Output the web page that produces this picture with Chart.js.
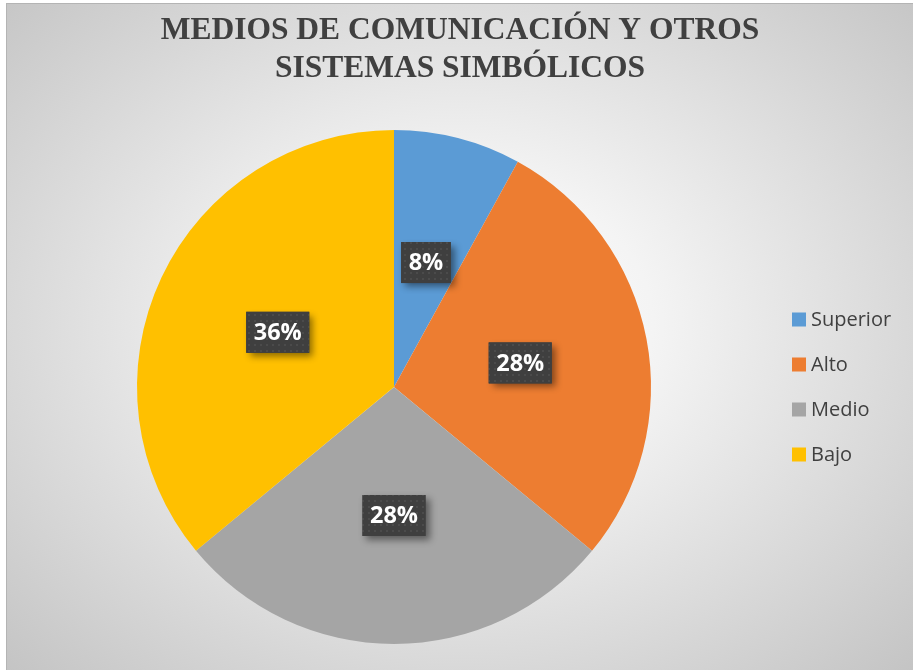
<!DOCTYPE html>
<html>
<head>
<meta charset="utf-8">
<script src="https://cdn.jsdelivr.net/npm/chart.js@4"></script>
<style>
  html, body { margin: 0; padding: 0; background: #ffffff; }
  body { width: 913px; height: 670px; position: relative; overflow: hidden; }
  #bg {
    position: absolute; left: 6px; top: 3px; width: 907px; height: 667px;
    border-top: 1px solid #b4b4b4; border-left: 1px solid #b4b4b4;
    background: radial-gradient(ellipse farthest-corner at 50% 48%, #ffffff 0%, #f4f4f4 30%, #dcdcdc 65%, #c4c4c4 100%);
  }
  #wrap { position: absolute; left: 0; top: 0; width: 913px; height: 670px; }
</style>
</head>
<body>
<div id="bg"></div>
<div id="wrap"><canvas id="c" width="913" height="670"></canvas></div>
<script>
const titleLines = ["MEDIOS DE COMUNICACIÓN Y OTROS", "SISTEMAS SIMBÓLICOS"];
const categories = ["Superior", "Alto", "Medio", "Bajo"];
const values = [8, 28, 28, 36];
const colors = ["#5B9BD5", "#ED7D31", "#A5A5A5", "#FFC000"];

function makePattern(ctx) {
  const p = document.createElement('canvas');
  p.width = 6; p.height = 6;
  const pc = p.getContext('2d');
  pc.fillStyle = '#3f3f3f';
  pc.fillRect(0, 0, 6, 6);
  pc.fillStyle = '#4b4b4b';
  pc.fillRect(2, 2, 2, 2);
  return ctx.createPattern(p, 'repeat');
}

const titlePlugin = {
  id: 'customTitle',
  afterDraw(chart) {
    const ctx = chart.ctx;
    ctx.save();
    ctx.fillStyle = '#404040';
    ctx.font = 'bold 31.5px "Liberation Serif", "Times New Roman", serif';
    ctx.textAlign = 'center';
    ctx.textBaseline = 'middle';
    titleLines.forEach((t, i) => ctx.fillText(t, 460, 31 + i * 38));
    ctx.restore();
  }
};

const legendPlugin = {
  id: 'customLegend',
  afterDraw(chart) {
    const ctx = chart.ctx;
    const ds = chart.data.datasets[0];
    ctx.save();
    ctx.font = '20px "Open Sans", sans-serif';
    ctx.textBaseline = 'middle';
    ctx.textAlign = 'left';
    chart.data.labels.forEach((lab, i) => {
      const y = 319.5 + i * 45;
      ctx.fillStyle = ds.backgroundColor[i];
      ctx.fillRect(792, y - 7, 14, 14);
      ctx.fillStyle = '#404040';
      ctx.fillText(lab, 811, y + 1);
    });
    ctx.restore();
  }
};

const labelPlugin = {
  id: 'boxLabels',
  afterDatasetsDraw(chart) {
    const ctx = chart.ctx;
    const meta = chart.getDatasetMeta(0);
    const data = chart.data.datasets[0].data;
    const total = data.reduce((a, b) => a + b, 0);
    const pat = makePattern(ctx);
    ctx.save();
    ctx.font = 'bold 23.5px "Open Sans", sans-serif';
    meta.data.forEach((arc, i) => {
      const pos = arc.tooltipPosition();
      const txt = Math.round(data[i] / total * 100) + '%';
      const w = ctx.measureText(txt).width + 15;
      const h = 41;
      const x = pos.x - w / 2, y = pos.y - h / 2;
      ctx.save();
      ctx.shadowColor = 'rgba(0,0,0,0.45)';
      ctx.shadowBlur = 7;
      ctx.shadowOffsetX = 4;
      ctx.shadowOffsetY = 4;
      ctx.fillStyle = '#3f3f3f';
      ctx.fillRect(x, y, w, h);
      ctx.restore();
      ctx.fillStyle = pat;
      ctx.fillRect(x, y, w, h);
      ctx.fillStyle = '#ffffff';
      ctx.textAlign = 'center';
      ctx.textBaseline = 'middle';
      ctx.fillText(txt, pos.x, pos.y + 1);
    });
    ctx.restore();
  }
};

new Chart(document.getElementById('c'), {
  type: 'pie',
  data: {
    labels: categories,
    datasets: [{
      data: values,
      backgroundColor: colors,
      borderWidth: 0
    }]
  },
  options: {
    responsive: false,
    animation: false,
    layout: { padding: { left: 137, right: 262, top: 130, bottom: 26 } },
    plugins: {
      legend: { display: false },
      title: { display: false },
      tooltip: { enabled: false }
    }
  },
  plugins: [labelPlugin, titlePlugin, legendPlugin]
});
</script>
</body>
</html>
